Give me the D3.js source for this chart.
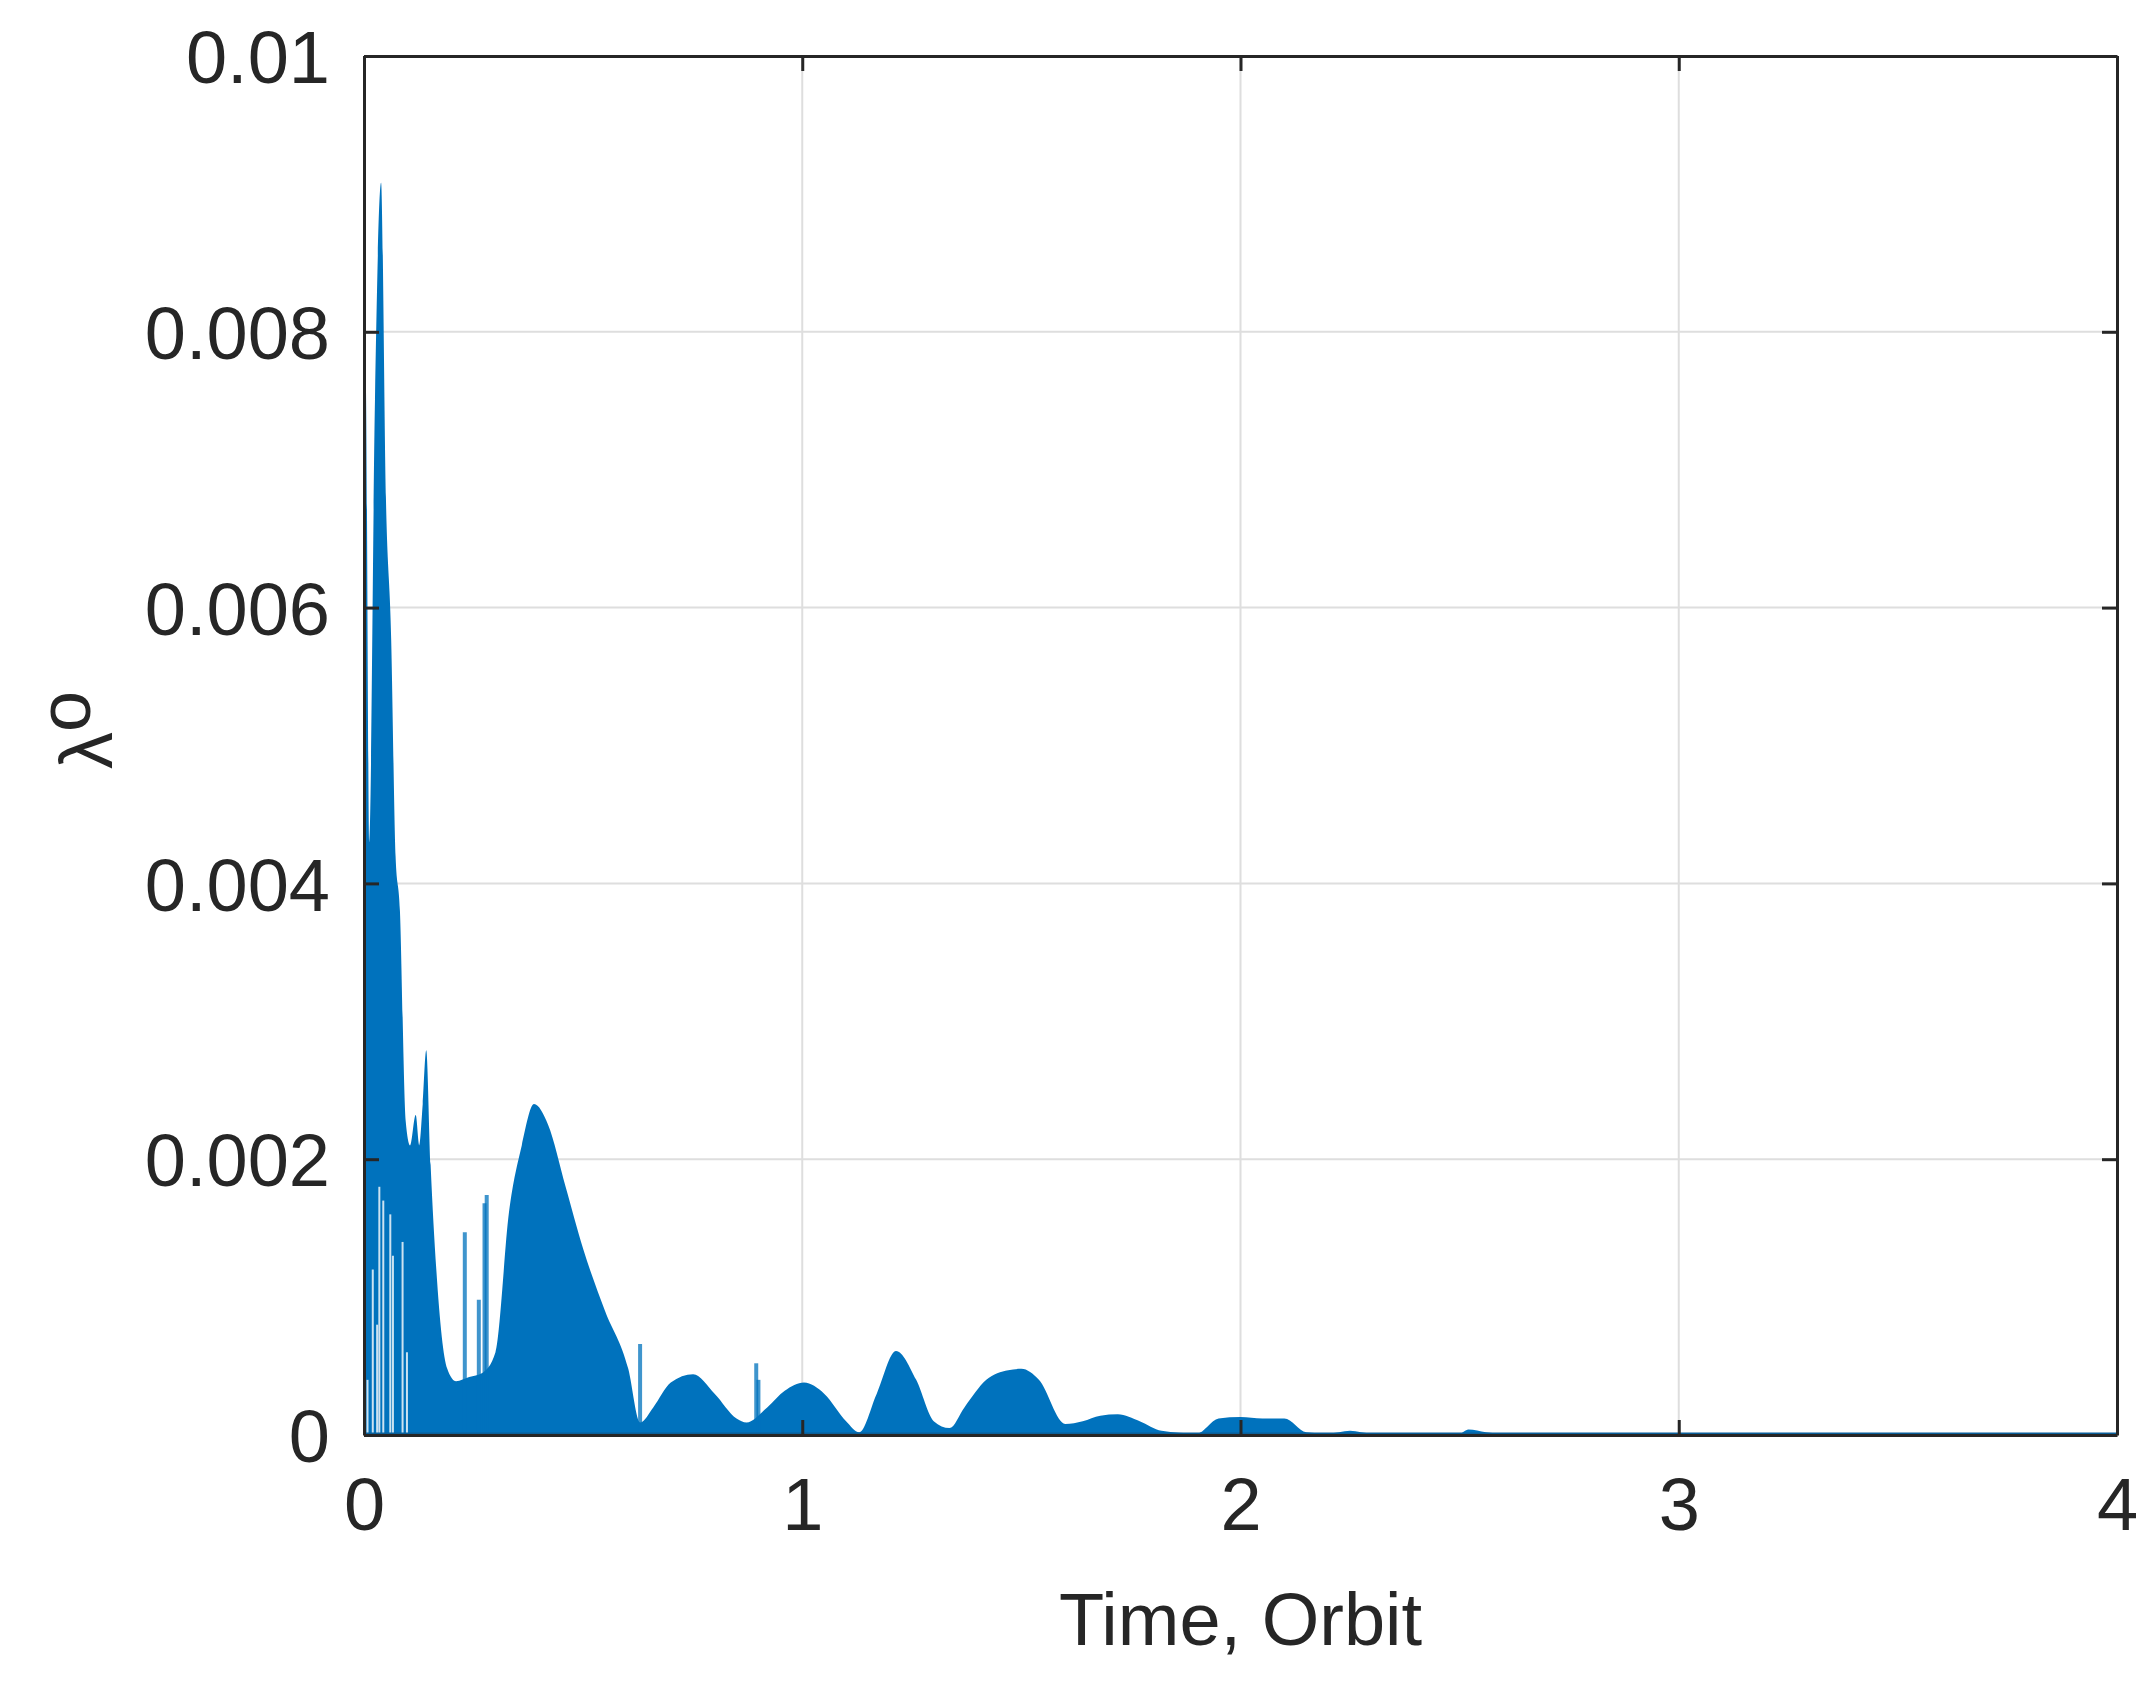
<!DOCTYPE html>
<html>
<head>
<meta charset="utf-8">
<script src="https://cdn.jsdelivr.net/npm/d3@7"></script>
<style>
body { margin: 0; background: #fff; }
text { font-family: "Liberation Sans", Arial, sans-serif; fill: #262626; }
</style>
</head>
<body>
<script>
var width = 2153, height = 1688;
var margin = { left: 364, right: 2153 - 2117, top: 56, bottom: 1688 - 1435 };

// upper envelope of the oscillating signal (time in orbits, value)
var envT = [0, 0.004, 0.012, 0.025, 0.039, 0.05, 0.062, 0.072, 0.082, 0.095, 0.105, 0.118, 0.126, 0.134, 0.142, 0.152, 0.165, 0.19, 0.21, 0.24, 0.27, 0.3, 0.331, 0.36, 0.388, 0.42, 0.46, 0.5, 0.55, 0.603, 0.63, 0.66, 0.7, 0.751, 0.8, 0.85, 0.873, 0.92, 0.96, 1.004, 1.05, 1.1, 1.13, 1.17, 1.214, 1.26, 1.3, 1.336, 1.37, 1.42, 1.47, 1.5, 1.54, 1.6, 1.64, 1.68, 1.72, 1.77, 1.82, 1.9, 1.95, 2.0, 2.05, 2.1, 2.15, 2.2, 2.25, 2.3, 2.4, 2.5, 2.52, 2.56, 2.6, 3.0, 3.5, 4.0];
var envV = [0.0072, 0.00764, 0.0043, 0.0075, 0.00908, 0.0068, 0.00577, 0.0042, 0.0038, 0.00228, 0.0021, 0.00232, 0.0021, 0.0024, 0.00279, 0.00196, 0.0012, 0.00048, 0.00039, 0.00042, 0.00045, 0.0006, 0.00162, 0.0021, 0.0024, 0.00225, 0.0018, 0.00135, 0.0009, 0.00048, 0.00009, 0.0002, 0.00038, 0.00044, 0.0003, 0.00012, 0.00009, 0.0002, 0.00032, 0.00038, 0.0003, 0.0001, 0.00002, 0.0003, 0.00061, 0.0004, 0.0001, 0.00005, 0.0002, 0.0004, 0.00047, 0.00048, 0.0004, 0.00008, 0.0001, 0.00014, 0.00015, 0.0001, 0.00003, 0.00001, 0.00012, 0.00013, 0.00012, 0.00012, 0.00002, 0.00001, 0.00003, 0.00001, 0.00001, 0.00001, 0.00004, 0.00002, 0.00001, 0.00001, 0.00001, 0.00001];

// isolated spikes
var spikeT = [0.23, 0.262, 0.275, 0.28, 0.63, 0.895, 0.9];
var spikeV = [0.00147, 0.00098, 0.00168, 0.00174, 0.00066, 0.00052, 0.0004];

// white gaps where the signal dips to zero near the start
var gapT = [0.008, 0.02, 0.03, 0.035, 0.044, 0.06, 0.066, 0.088, 0.098];
var gapV = [0.0004, 0.0012, 0.0008, 0.0018, 0.0017, 0.0016, 0.0013, 0.0014, 0.0006];

var xTicks = [0, 1, 2, 3, 4];
var yTicks = [0, 0.002, 0.004, 0.006, 0.008, 0.01];

var svg = d3.select("body").append("svg")
    .attr("width", width)
    .attr("height", height);

var x = d3.scaleLinear().domain([0, 4]).range([margin.left, width - margin.right]);
var y = d3.scaleLinear().domain([0, 0.01]).range([height - margin.bottom, margin.top]);

// grid
svg.append("g").selectAll("line").data(xTicks.slice(1, -1)).enter().append("line")
    .attr("x1", d => x(d)).attr("x2", d => x(d))
    .attr("y1", y(0)).attr("y2", y(0.01))
    .style("stroke", "#dedede").style("stroke-width", 2);
svg.append("g").selectAll("line").data(yTicks.slice(1, -1)).enter().append("line")
    .attr("y1", d => y(d)).attr("y2", d => y(d))
    .attr("x1", x(0)).attr("x2", x(4))
    .style("stroke", "#dedede").style("stroke-width", 2);

var pts = envT.map((t, i) => [t, envV[i]]);
svg.append("path").datum(pts)
    .attr("d", d3.area().curve(d3.curveMonotoneX).x(d => x(d[0])).y0(y(0)).y1(d => y(d[1])))
    .style("fill", "#0072BD");

svg.append("g").selectAll("line").data(gapT).enter().append("line")
    .attr("x1", d => x(d)).attr("x2", d => x(d))
    .attr("y1", y(0)).attr("y2", (d, i) => y(gapV[i]))
    .style("stroke", "#fff").style("stroke-width", 2).style("opacity", 0.8);

svg.append("g").selectAll("line").data(spikeT).enter().append("line")
    .attr("x1", d => x(d)).attr("x2", d => x(d))
    .attr("y1", y(0)).attr("y2", (d, i) => y(spikeV[i]))
    .style("stroke", "#0072BD").style("stroke-width", 4).style("opacity", 0.75);

svg.append("line").attr("x1", x(0)).attr("x2", x(4)).attr("y1", y(0) - 1).attr("y2", y(0) - 1)
    .style("stroke", "#0a5f99").style("stroke-width", 3);

// box axes, MATLAB style
var fs = "74px";
var axB = svg.append("g").attr("transform", "translate(0," + y(0) + ")")
    .call(d3.axisBottom(x).tickValues(xTicks).tickFormat(d3.format("d")).tickSizeInner(-15).tickSizeOuter(0).tickPadding(42));
var axT = svg.append("g").attr("transform", "translate(0," + y(0.01) + ")")
    .call(d3.axisTop(x).tickValues(xTicks).tickFormat("").tickSizeInner(-15).tickSizeOuter(0));
var axL = svg.append("g").attr("transform", "translate(" + x(0) + ",0)")
    .call(d3.axisLeft(y).tickValues(yTicks).tickFormat(d => d === 0 ? "0" : d3.format("")(+d.toFixed(3))).tickSizeInner(-15).tickSizeOuter(0).tickPadding(34));
var axR = svg.append("g").attr("transform", "translate(" + x(4) + ",0)")
    .call(d3.axisRight(y).tickValues(yTicks).tickFormat("").tickSizeInner(-15).tickSizeOuter(0));
[axB, axT, axL, axR].forEach(function (a) {
    a.select(".domain").style("stroke", "#262626").style("stroke-width", 3);
    a.selectAll(".tick line").style("stroke", "#262626").style("stroke-width", 3);
    a.selectAll("text").style("font-size", fs).style("fill", "#262626")
        .style("font-family", "'Liberation Sans', Arial, sans-serif");
});
axB.selectAll("text").attr("dy", "0.71em");
axL.selectAll("text").attr("dy", "0.36em");

svg.append("text").attr("x", x(2)).attr("y", 1645)
    .attr("text-anchor", "middle").style("font-size", fs).text("Time, Orbit");

var yl = svg.append("text").attr("transform", "translate(112,730) rotate(-90)")
    .attr("text-anchor", "middle").style("font-size", fs);
yl.append("tspan").text("λ");
yl.append("tspan").attr("dy", "-0.3em").text("o");
</script>
</body>
</html>
